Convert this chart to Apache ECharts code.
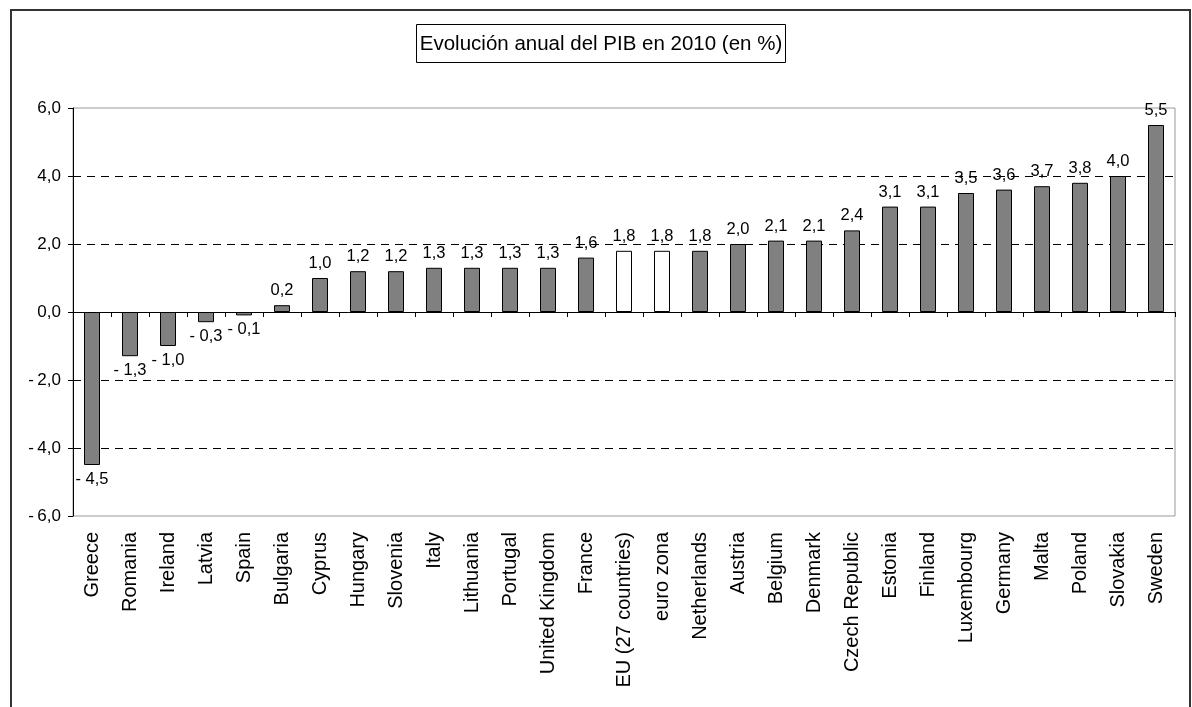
<!DOCTYPE html>
<html>
<head>
<meta charset="utf-8">
<title>Evolución anual del PIB en 2010</title>
<script src="https://cdn.jsdelivr.net/npm/echarts@6/dist/echarts.min.js"></script>
<style>
  html, body { margin: 0; padding: 0; background: #ffffff; }
  #chart { width: 1192px; height: 707px; }
</style>
</head>
<body>
<div id="chart"></div>
<script>
// Annual GDP change in 2010 (%), sorted ascending
const categories = [
  'Greece', 'Romania', 'Ireland', 'Latvia', 'Spain', 'Bulgaria', 'Cyprus',
  'Hungary', 'Slovenia', 'Italy', 'Lithuania', 'Portugal', 'United Kingdom',
  'France', 'EU (27 countries)', 'euro zona', 'Netherlands', 'Austria',
  'Belgium', 'Denmark', 'Czech Republic', 'Estonia', 'Finland', 'Luxembourg',
  'Germany', 'Malta', 'Poland', 'Slovakia', 'Sweden'
];
const gdpGrowth = [
  -4.5, -1.3, -1.0, -0.3, -0.1, 0.2, 1.0,
  1.2, 1.2, 1.3, 1.3, 1.3, 1.3,
  1.6, 1.8, 1.8, 1.8, 2.0,
  2.1, 2.1, 2.4, 3.1, 3.1, 3.5,
  3.6, 3.7, 3.8, 4.0, 5.5
];
// Aggregates drawn with a white fill
const aggregates = ['EU (27 countries)', 'euro zona'];
const yTicks = { min: -6, max: 6, step: 2 };

const FONT = '"Liberation Sans", Arial, sans-serif';

function fmtComma(v, negSep) {
  const s = Math.abs(v).toFixed(1).replace('.', ',');
  return v < 0 ? '-' + negSep + s : s;
}

const barData = gdpGrowth.map((v, i) => {
  const isAgg = aggregates.indexOf(categories[i]) !== -1;
  return {
    value: v,
    itemStyle: { color: isAgg ? '#ffffff' : '#808080' },
    label: { position: v < 0 ? 'bottom' : 'top' }
  };
});

const chart = echarts.init(document.getElementById('chart'), null, { renderer: 'canvas' });

chart.setOption({
  backgroundColor: '#ffffff',
  animation: false,
  grid: {
    left: 73, right: 17, top: 108, bottom: 191,
    show: true,
    borderColor: '#999999',
    borderWidth: 1,
    backgroundColor: 'transparent'
  },
  graphic: [
    {
      type: 'rect',
      shape: { x: 11, y: 10, width: 1179, height: 720 },
      style: { fill: 'none', stroke: '#333333', lineWidth: 2 },
      silent: true
    },
    {
      type: 'rect',
      shape: { x: 416.5, y: 24.5, width: 369, height: 38 },
      style: { fill: '#ffffff', stroke: '#000000', lineWidth: 1 },
      silent: true
    },
    {
      type: 'text',
      x: 601, y: 44,
      style: {
        text: 'Evolución anual del PIB en 2010 (en %)',
        font: '20.5px ' + FONT,
        fill: '#000000',
        align: 'center',
        verticalAlign: 'middle'
      },
      silent: true
    }
  ],
  xAxis: [
    {
      // zero line with tick marks between categories
      type: 'category',
      data: categories,
      boundaryGap: true,
      axisLine: { show: true, onZero: true, lineStyle: { color: '#000000', width: 1 } },
      axisTick: { show: true, interval: 0, length: 5, inside: false, lineStyle: { color: '#000000' } },
      axisLabel: { show: false, interval: 0 },
      splitLine: { show: false }
    },
    {
      // category names along the bottom of the plot
      type: 'category',
      data: categories,
      position: 'bottom',
      boundaryGap: true,
      axisLine: { show: false, onZero: false },
      axisTick: { show: false },
      axisLabel: {
        show: true,
        rotate: 90,
        interval: 0,
        margin: 16,
        color: '#000000',
        fontFamily: FONT,
        fontSize: 20
      },
      splitLine: { show: false }
    }
  ],
  yAxis: {
    type: 'value',
    min: yTicks.min,
    max: yTicks.max,
    interval: yTicks.step,
    axisLine: { show: true, onZero: false, lineStyle: { color: '#000000', width: 1 } },
    axisTick: { show: true, length: 5, inside: false, lineStyle: { color: '#000000' } },
    axisLabel: {
      color: '#000000',
      fontFamily: FONT,
      fontSize: 17,
      margin: 12,
      formatter: v => fmtComma(v, '\u2009')
    },
    splitLine: {
      show: true,
      lineStyle: {
        type: [8, 6],
        width: 1,
        // -6, -4, -2, 0, 2, 4, 6: outer edges and zero line are drawn elsewhere
        color: ['rgba(0,0,0,0)', '#000000', '#000000', 'rgba(0,0,0,0)', '#000000', '#000000', 'rgba(0,0,0,0)']
      }
    }
  },
  series: [
    {
      type: 'bar',
      xAxisIndex: 0,
      data: barData,
      barWidth: 16,
      itemStyle: { borderColor: '#000000', borderWidth: 1 },
      label: {
        show: true,
        distance: 6,
        color: '#000000',
        fontFamily: FONT,
        fontSize: 16.5,
        formatter: p => fmtComma(p.value, ' ')
      },
      z: 3
    }
  ]
});
</script>
</body>
</html>
